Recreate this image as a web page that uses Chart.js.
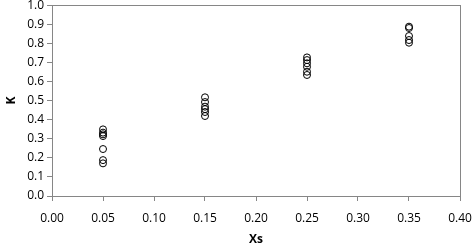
<!DOCTYPE html>
<html>
<head>
<meta charset="utf-8">
<script src="https://cdn.jsdelivr.net/npm/chart.js@4"></script>
<style>
  html, body { margin: 0; padding: 0; background: #fff; }
  #wrap { width: 473px; height: 251px; }
</style>
</head>
<body>
<div id="wrap"><canvas id="chart"></canvas></div>
<script>
// x positions (Xs) and measured K values
const xs005 = [0.349, 0.332, 0.323, 0.314, 0.246, 0.188, 0.171];
const xs015 = [0.517, 0.492, 0.468, 0.455, 0.44, 0.419];
const xs025 = [0.726, 0.712, 0.695, 0.677, 0.651, 0.634];
const xs035 = [0.887, 0.88, 0.838, 0.817, 0.803];
const groups = [[0.05, xs005], [0.15, xs015], [0.25, xs025], [0.35, xs035]];

const points = [];
groups.forEach(([x, ks]) => ks.forEach((k) => points.push({ x: x, y: k })));

const frame = {
  id: "frame",
  afterDraw(chart) {
    const { ctx, chartArea: a } = chart;
    ctx.save();
    ctx.strokeStyle = "#868686";
    ctx.lineWidth = 1;
    ctx.strokeRect(Math.round(a.left) + 0.5, Math.round(a.top) + 0.5,
      Math.round(a.right - a.left), Math.round(a.bottom - a.top));
    ctx.restore();
  },
};

const font = { family: "'Open Sans', 'Liberation Sans', Arial, sans-serif", size: 12 };

new Chart(document.getElementById("chart"), {
  type: "scatter",
  data: {
    datasets: [
      {
        data: points,
        pointStyle: "circle",
        pointRadius: 3.5,
        pointBorderWidth: 1,
        pointBorderColor: "#000",
        pointBackgroundColor: "rgba(0,0,0,0)",
      },
    ],
  },
  options: {
    responsive: true,
    maintainAspectRatio: false,
    animation: false,
    layout: { autoPadding: false, padding: { top: 0, right: 13, left: 0, bottom: 0 } },
    plugins: { legend: { display: false }, tooltip: { enabled: false } },
    scales: {
      x: {
        min: 0,
        max: 0.4,
        afterFit: (s) => { s.height = 55; s.paddingRight = 13; s.paddingLeft = 0; },
        ticks: {
          stepSize: 0.05,
          color: "#000",
          font: font,
          padding: 10,
          callback: (v) => v.toFixed(2),
        },
        grid: { display: true, drawOnChartArea: false, drawTicks: true, tickLength: 5, color: "#868686" },
        border: { color: "#868686" },
        title: { display: true, text: "Xs", color: "#000", font: { ...font, weight: "bold" }, padding: { top: 4, bottom: 4 } },
      },
      y: {
        min: 0,
        max: 1,
        afterFit: (s) => { s.width = 52; },
        ticks: {
          stepSize: 0.1,
          color: "#000",
          font: { ...font, lineHeight: 0.35 },
          padding: 3,
          callback: (v) => v.toFixed(1),
        },
        grid: { display: true, drawOnChartArea: false, drawTicks: true, tickLength: 5, color: "#868686" },
        border: { color: "#868686" },
        title: { display: true, text: "K", color: "#000", font: { ...font, weight: "bold" }, padding: { bottom: 2 } },
      },
    },
  },
  plugins: [frame],
});
</script>
</body>
</html>
